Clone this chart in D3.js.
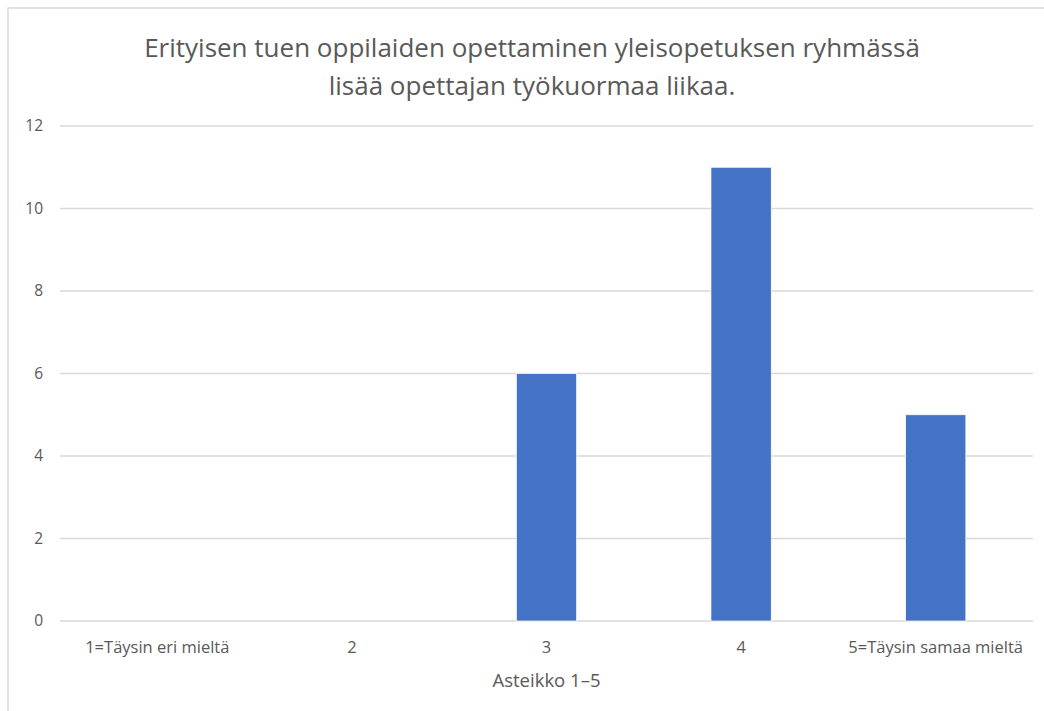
<!DOCTYPE html>
<html lang="fi">
<head>
<meta charset="UTF-8">
<title>Asteikko</title>
<script src="https://cdn.jsdelivr.net/npm/d3@7"></script>
<style>
    body { margin: 0; background: #fff; }
    text { font-family: "Open Sans", "Noto Sans", sans-serif; fill: #595959; }
    .grid line { stroke: #d9d9d9; stroke-width: 1.5px; }
</style>
</head>
<body>
<svg width="1044" height="711"></svg>
<script>
    // data
    var categories = ["1=Täysin eri mieltä", "2", "3", "4", "5=Täysin samaa mieltä"];
    var values = [0, 0, 6, 11, 5];
    var yTicks = [0, 2, 4, 6, 8, 10, 12];
    var titleLines = ["Erityisen tuen oppilaiden opettaminen yleisopetuksen ryhmässä", "lisää opettajan työkuormaa liikaa."];
    var xTitle = "Asteikko 1–5";

    var svg = d3.select("svg");
    var margin = {left: 60, right: 11, top: 126, bottom: 90};
    var w = 1044, h = 711;

    // chart frame
    svg.append("rect")
        .attr("x", 8).attr("y", 8)
        .attr("width", 1050).attr("height", 720)
        .attr("fill", "none").attr("stroke", "#d9d9d9").attr("stroke-width", 1.5);

    var x = d3.scaleBand()
        .domain(categories)
        .range([margin.left, w - margin.right])
        .paddingInner(0.69)
        .paddingOuter(0.345);

    var y = d3.scaleLinear()
        .domain([0, 12])
        .range([h - margin.bottom, margin.top]);

    // gridlines
    svg.append("g").attr("class", "grid")
        .selectAll("line")
        .data(yTicks)
        .enter().append("line")
        .attr("x1", margin.left).attr("x2", w - margin.right)
        .attr("y1", function (d) { return y(d); })
        .attr("y2", function (d) { return y(d); });

    // y labels
    svg.append("g")
        .selectAll("text")
        .data(yTicks)
        .enter().append("text")
        .attr("x", 43)
        .attr("y", function (d) { return y(d); })
        .attr("dy", "0.35em")
        .attr("text-anchor", "end")
        .attr("font-size", 15.5)
        .text(function (d) { return d; });

    // bars
    svg.append("g")
        .selectAll("rect")
        .data(values)
        .enter().append("rect")
        .attr("x", function (d, i) { return x(categories[i]); })
        .attr("width", x.bandwidth())
        .attr("y", function (d) { return y(d); })
        .attr("height", function (d) { return y(0) - y(d); })
        .attr("fill", "#4472c4")
        .attr("stroke", "#fff")
        .attr("stroke-width", 0.75)
        .style("display", function (d) { return d > 0 ? null : "none"; });

    // category labels
    svg.append("g")
        .selectAll("text")
        .data(categories)
        .enter().append("text")
        .attr("x", function (d) { return x(d) + x.bandwidth() / 2; })
        .attr("y", 653)
        .attr("text-anchor", "middle")
        .attr("font-size", 16.5)
        .text(function (d) { return d; });

    // axis title
    svg.append("text")
        .attr("x", (margin.left + w - margin.right) / 2)
        .attr("y", 687)
        .attr("text-anchor", "middle")
        .attr("font-size", 18.5)
        .text(xTitle);

    // title
    svg.append("g")
        .selectAll("text")
        .data(titleLines)
        .enter().append("text")
        .attr("x", 532)
        .attr("y", function (d, i) { return 57 + i * 38; })
        .attr("text-anchor", "middle")
        .attr("font-size", 26)
        .text(function (d) { return d; });
</script>
</body>
</html>
